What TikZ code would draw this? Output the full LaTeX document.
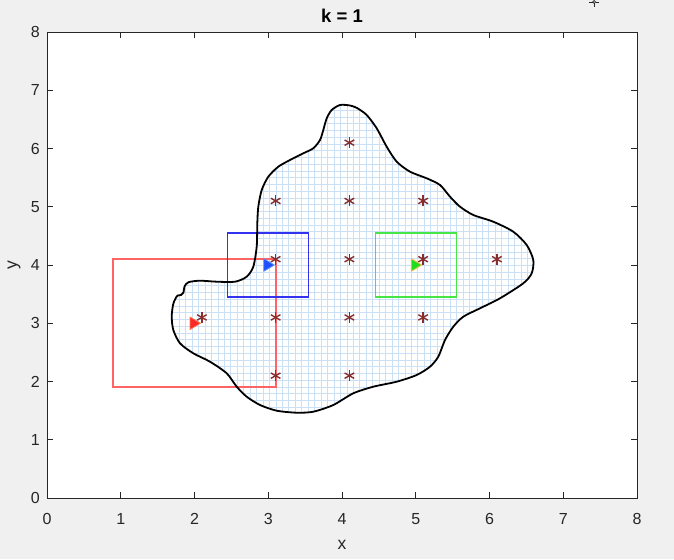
\documentclass[tikz,border=0pt]{standalone}
\usepackage{fontspec}
\setmainfont{Liberation Sans}
\definecolor{figbg}{RGB}{240,240,240}
\definecolor{axcol}{RGB}{38,38,38}
\definecolor{gridcol}{RGB}{204,224,245}
\definecolor{starcol}{RGB}{135,45,45}
\definecolor{redrectcol}{RGB}{255,100,100}
\definecolor{bluerectcol}{RGB}{50,50,240}
\definecolor{greenrectcol}{RGB}{70,230,70}
\definecolor{trired}{RGB}{250,40,40}
\definecolor{triredE}{RGB}{255,120,80}
\definecolor{triblue}{RGB}{30,80,255}
\definecolor{triblueE}{RGB}{90,140,255}
\definecolor{trigreen}{RGB}{30,220,30}
\definecolor{trigreenE}{RGB}{240,190,70}
\tikzset{
  gridline/.style={draw=gridcol,line width=0.9pt},
  axbox/.style={draw=axcol,line width=0.8pt},
  tickline/.style={draw=axcol,line width=0.8pt},
  ticklab/.style={text=axcol,font=\fontsize{16}{16}\selectfont,inner sep=0pt},
  starline/.style={draw=starcol,line width=1.4pt},
  mstar/.pic={
    \draw[starline] (0,-5.5pt) -- (0,5.5pt);
    \draw[starline] (-4.8pt,-2.75pt) -- (4.8pt,2.75pt);
    \draw[starline] (-4.8pt,2.75pt) -- (4.8pt,-2.75pt);
  },
  mtri/.style args={#1/#2}{fill=#1,draw=#2,line width=0.8pt,line join=round},
  rectline/.style={draw=#1,line width=1.1pt},
}
\def\shapepath{plot[smooth cycle, tension=0.45] coordinates {
(340,105) (350,105.5) (357,108) (366.7,115) (376.7,128.3) (386.7,146.7) (396.7,161.7)
(410,171.7) (426.7,178.3) (440,185) (450,196.7) (460,206.7) (473.3,215) (493.3,221.7)
(513.3,231.7) (526.7,245) (533.3,260) (531.7,273.3) (523.3,283.3) (500,298.3)
(480,308.3) (463.3,316.7) (453.3,326.7) (445,340) (438.3,356.7) (430,366.7)
(416.7,375) (396.7,381.7) (373.3,386.7) (353.3,393.3) (333.3,405) (313.3,411.7)
(296.7,412.7) (276.7,410.7) (260,405) (246.7,396.7) (236.7,386.7) (226.7,373.3)
(210,361.7) (193.3,353.3) (180,343.3) (173.3,330) (171.7,316.7) (173,305) (175,299.5)
(177.5,295.6) (181,295) (183.5,292.5) (184.5,286.5) (188.5,282.2) (200,280.7)
(216.7,281.7) (235,281.7) (246.7,276.7) (253.3,266.7) (256.7,246.7) (257.3,223.3)
(258.3,206.7) (261.7,190) (268.3,176.7) (278.3,166.7) (290,160) (303.3,153.3)
(313.3,148.3) (320,140) (323.3,130) (326.7,118.3) (331.7,110)}}
\begin{document}
\begin{tikzpicture}[x=1pt,y=-1pt]
\useasboundingbox (0,0) rectangle (674,559);
\fill[figbg] (0,0) rectangle (674,559);
\fill[white] (47,32) rectangle (637,498);
% grid inside the region
\begin{scope}
\clip \shapepath;
\foreach \k in {-18,...,42} \draw[gridline] ({276+6.45*\k},95) -- ({276+6.45*\k},425);
\foreach \k in {-32,...,18} \draw[gridline] (160,{306+6.75*\k}) -- (545,{306+6.75*\k});
\end{scope}
% rectangles
\draw[redrectcol,line width=2pt] (113,259) rectangle (276,387);
\draw[rectline=bluerectcol] (227.7,233) rectangle (308.8,297);
\draw[rectline=greenrectcol] (375.2,233) rectangle (456.3,297);
\draw[black,line width=1.8pt] \shapepath;
\begin{scope}[shift={(47,498)},x=73.75pt,y=58.25pt]
\foreach \p/\f/\e in {{(2,3)}/trired/triredE, {(3,4)}/triblue/triblueE, {(5,4)}/trigreen/trigreenE}{
  \path \p coordinate (tc);
  \filldraw[mtri=\f/\e] ([xshift=-4.5pt,yshift=6.3pt]tc) -- ([xshift=6pt]tc) -- ([xshift=-4.5pt,yshift=-6.3pt]tc) -- cycle;
}
\foreach \x/\y in {2.1/3.1, 3.1/2.1, 3.1/3.1, 3.1/4.1, 3.1/5.1, 4.1/2.1, 4.1/3.1, 4.1/4.1, 4.1/5.1, 4.1/6.1, 5.1/3.1, 5.1/4.1, 5.1/5.1, 6.1/4.1}
  \pic at (\x,\y) {mstar};
\end{scope}
% axes box and ticks
\draw[axbox] (47,32) rectangle (637,498);
\foreach \k in {1,...,7} {
  \draw[tickline] ({47+73.75*\k},498) -- ({47+73.75*\k},492);
  \draw[tickline] ({47+73.75*\k},32) -- ({47+73.75*\k},38);
  \draw[tickline] (47,{498-58.25*\k}) -- (53,{498-58.25*\k});
  \draw[tickline] (637,{498-58.25*\k}) -- (631,{498-58.25*\k});
}
\foreach \k in {0,...,8} {
  \node[ticklab,anchor=center] (xl\k) at ({47+73.75*\k},519) {\k};
  \node[ticklab,anchor=east] (yl\k) at (40,{498-58.25*\k}) {\k};
}
\node[text=axcol,font=\fontsize{17.5}{17.5}\selectfont,inner sep=0pt] (xlab) at (342,545) {x};
\node[text=axcol,font=\fontsize{17.5}{17.5}\selectfont,inner sep=0pt,rotate=90] (ylab) at (14,265) {y};
\node[text=black,font=\fontsize{18.5}{18.5}\selectfont\bfseries,inner sep=0pt] (title) at (342,16) {k = 1};
% mouse cursor
\draw[axcol,line width=0.9pt] (589,2) -- (592.5,2) (595.5,2) -- (599,2) (594,3.5) -- (594,7);
\draw[axcol,line width=0.7pt] (594,2) circle (1.5);
\end{tikzpicture}
\end{document}
